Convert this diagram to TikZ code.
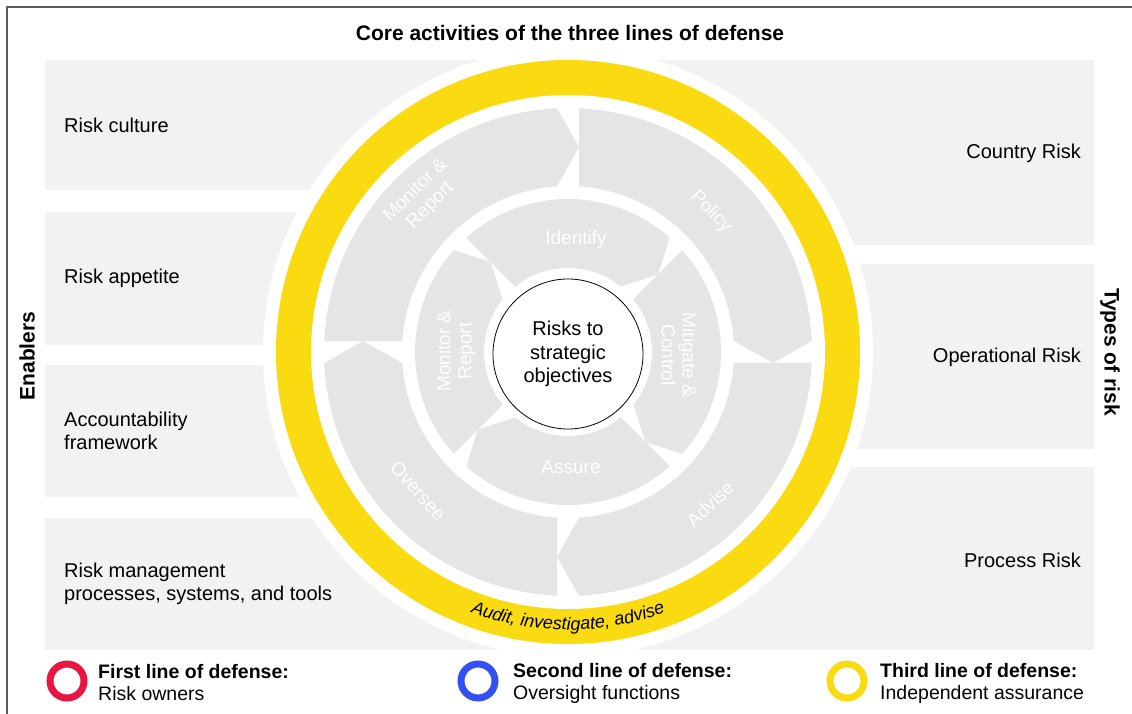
\documentclass[tikz,border=0pt]{standalone}
\usepackage{fontspec}
\setmainfont{Liberation Sans}
\usetikzlibrary{decorations.text}

\definecolor{defYellow}{RGB}{250,218,17}
\definecolor{defRed}{RGB}{232,22,64}
\definecolor{defBlue}{RGB}{50,80,245}
\definecolor{panelGray}{RGB}{242,242,242}
\definecolor{segGray}{RGB}{229,229,229}
\definecolor{frameGray}{RGB}{90,90,90}

\newcommand{\lblsize}{\fontsize{20}{22.5}\selectfont}
\newcommand{\coresize}{\fontsize{20}{23.5}\selectfont}
\newcommand{\segsize}{\fontsize{19}{21}\selectfont}
\newcommand{\titlesize}{\fontsize{21}{24}\selectfont}
\newcommand{\legsize}{\fontsize{19.5}{22}\selectfont}
\newcommand{\auditfont}{\itshape\fontsize{18}{18}\selectfont}

\begin{document}
\begin{tikzpicture}[x=1pt,y=1pt]
\tikzstyle{panel}=[fill=panelGray]
\tikzstyle{segment}=[fill=segGray]
\tikzstyle{enabler}=[anchor=west,align=left,font=\lblsize,inner sep=0pt]
\tikzstyle{riskType}=[anchor=east,align=right,font=\lblsize,inner sep=0pt]
\tikzstyle{segLabel}=[text=white,align=center,font=\segsize,inner sep=0pt]
\tikzstyle{axisTitle}=[font=\titlesize\bfseries,inner sep=0pt]
\tikzstyle{legendRing}=[circle,line width=7pt,minimum size=34pt,inner sep=0pt]
\tikzstyle{legendText}=[anchor=west,align=left,font=\legsize,inner sep=0pt]

\useasboundingbox (0,0) rectangle (1132,713);
%frame
\draw[frameGray,line width=2pt] (7,-20) -- (7,706) -- (1150,706);

%Titles
\node[axisTitle] (title) at (570,680) {Core activities of the three lines of defense};
\node[axisTitle,rotate=90] (enablers) at (27,357) {Enablers};
\node[axisTitle,rotate=-90] (types) at (1110,361) {Types of risk};

%enabler panels
\fill[panel] (45,653) rectangle (568,523);
\fill[panel] (45,501) rectangle (568,368);
\fill[panel] (45,348) rectangle (568,216);
\fill[panel] (45,195) rectangle (568,63);

%risk panels
\fill[panel] (568,653) rectangle (1094,468);
\fill[panel] (568,449) rectangle (1094,264);
\fill[panel] (568,246) rectangle (1094,63);

%enabler labels
\node[enabler] (culture)  at (64,588) {Risk culture};
\node[enabler] (appetite) at (64,435) {Risk appetite};
\node[enabler] (account)  at (64,282) {Accountability\\framework};
\node[enabler] (tools)    at (64,129) {Risk management\\processes, systems, and tools};

%risk labels
\node[riskType] (country)     at (1081,560) {Country Risk};
\node[riskType] (operational) at (1081,356) {Operational Risk};
\node[riskType] (process)     at (1081,153) {Process Risk};

%wheel
\begin{scope}[shift={(568,361)}]
\fill[white] (0,0) circle[radius=305];
\fill[defYellow] (0,0) circle[radius=292];
\fill[white] (0,0) circle[radius=257];

% arrow segments, outer ring then inner ring
\foreach \rot/\rin/\rout/\gap in {0/166/244/11,-90/166/244/11,180/166/244/11,90/166/244/11,
                                  45/84/153/9,-45/84/153/9,-135/84/153/9,135/84/153/9}{
  \pgfmathsetmacro{\angout}{asin(\gap/\rout)}
  \pgfmathsetmacro{\angin}{asin(\gap/\rin)}
  \pgfmathsetmacro{\rmid}{(\rin+\rout)/2}
  \fill[segment,rotate=\rot] (90-\angout:\rout)
    arc[start angle=90-\angout,end angle=\angout,radius=\rout]
    -- (\rmid,-\gap) -- (\angin:\rin)
    arc[start angle=\angin,end angle=90-\angin,radius=\rin] -- cycle;
}

\node[circle,draw=black,line width=0.8pt,fill=white,minimum size=150pt,inner sep=0pt,
      align=center,font=\coresize] (core) at (0,-2) {Risks to\\strategic\\objectives};

%outer labels
\node[segLabel,rotate=-46] (policy)  at (143,140)   {Policy};
\node[segLabel,rotate=44]  (advise)  at (142,-152)  {Advise};
\node[segLabel,rotate=-48] (oversee) at (-150,-139) {Oversee};
\node[segLabel,rotate=45]  (monitorOut) at (-145,154) {Monitor \&\\Report};

%inner labels
\node[segLabel] (identify) at (8,112)   {Identify};
\node[segLabel] (assure)   at (3,-115)  {Assure};
\node[segLabel,rotate=90]  (monitorIn)  at (-112,1) {Monitor \&\\Report};
\node[segLabel,rotate=-90] (mitigate)   at (111,-3) {Mitigate \&\\Control};

%third line text
\path[decorate,decoration={text along path,text align=center,
      text={|\auditfont|Audit, investigate, advise}}]
  (225:278) arc[start angle=225,end angle=315,radius=278];
\end{scope}

%legend
\node[legendRing,draw=defRed]    (firstRing)  at (67,32)  {};
\node[legendRing,draw=defBlue]   (secondRing) at (478,32) {};
\node[legendRing,draw=defYellow] (thirdRing)  at (847,32) {};

\node[legendText] (firstText)  at (98,30)  {\textbf{First line of defense:}\\Risk owners};
\node[legendText] (secondText) at (513,30) {\textbf{Second line of defense:}\\Oversight functions};
\node[legendText] (thirdText)  at (880,30) {\textbf{Third line of defense:}\\Independent assurance};

\end{tikzpicture}
\end{document}
